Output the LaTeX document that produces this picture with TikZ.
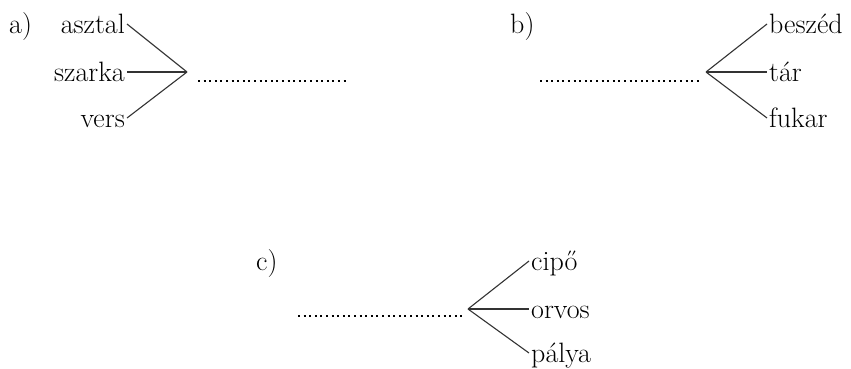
\documentclass[tikz,border=0pt]{standalone}
\usetikzlibrary{positioning}

\begin{document}
\begin{tikzpicture}[x=1pt, y=-1pt,
  word/.style={inner ysep=0pt, inner xsep=2pt, text height=18pt, text depth=0pt, font=\fontsize{28}{32}\selectfont},
  tag/.style={word, inner xsep=0pt},
  branch/.style={line width=1.1pt, black!80},
  blank/.style={line width=2pt, dash pattern=on 2pt off 3.6pt}]

    \useasboundingbox (0,0) rectangle (851,368);

    % a) three words into one blank
    \node (ta) [tag, anchor=base west] at (9,33) {a)};
    \node (asztal) [word, anchor=base east] at (127,33) {asztal};
    \node (szarka) [word, anchor=base east] at (127,81) {szarka};
    \node (vers) [word, anchor=base east] at (127,127) {vers};
    \coordinate (ja) at (187,72);
    \coordinate (da) at (198,81);
    \coordinate (ea) at (348,81);

    \draw[branch] (asztal.east) -- (ja);
    \draw[branch] (szarka.east) -- (ja);
    \draw[branch] (vers.east) -- (ja);
    \draw[blank] (da) -- (ea);

    % b) one blank to three words
    \node (tb) [tag, anchor=base west] at (510,33) {b)};
    \node (beszed) [word, anchor=base west] at (767,33) {beszéd};
    \node (tar) [word, anchor=base west] at (767,81) {tár};
    \node (fukar) [word, anchor=base west] at (767,127) {fukar};
    \coordinate (jb) at (706,72);
    \coordinate (db) at (540,81);
    \coordinate (eb) at (700,81);

    \draw[branch] (jb) -- (beszed.west);
    \draw[branch] (jb) -- (tar.west);
    \draw[branch] (jb) -- (fukar.west);
    \draw[blank] (db) -- (eb);

    % c) one blank to three words
    \node (tc) [tag, anchor=base west] at (256,270) {c)};
    \node (cipo) [word, anchor=base west] at (529,270) {cipő};
    \node (orvos) [word, anchor=base west] at (529,318) {orvos};
    \node (palya) [word, anchor=base west] at (529,362) {pálya};
    \coordinate (jc) at (468,309);
    \coordinate (dc) at (298,316);
    \coordinate (ec) at (462,316);

    \draw[branch] (jc) -- (cipo.west);
    \draw[branch] (jc) -- (orvos.west);
    \draw[branch] (jc) -- (palya.west);
    \draw[blank] (dc) -- (ec);

\end{tikzpicture}
\end{document}
